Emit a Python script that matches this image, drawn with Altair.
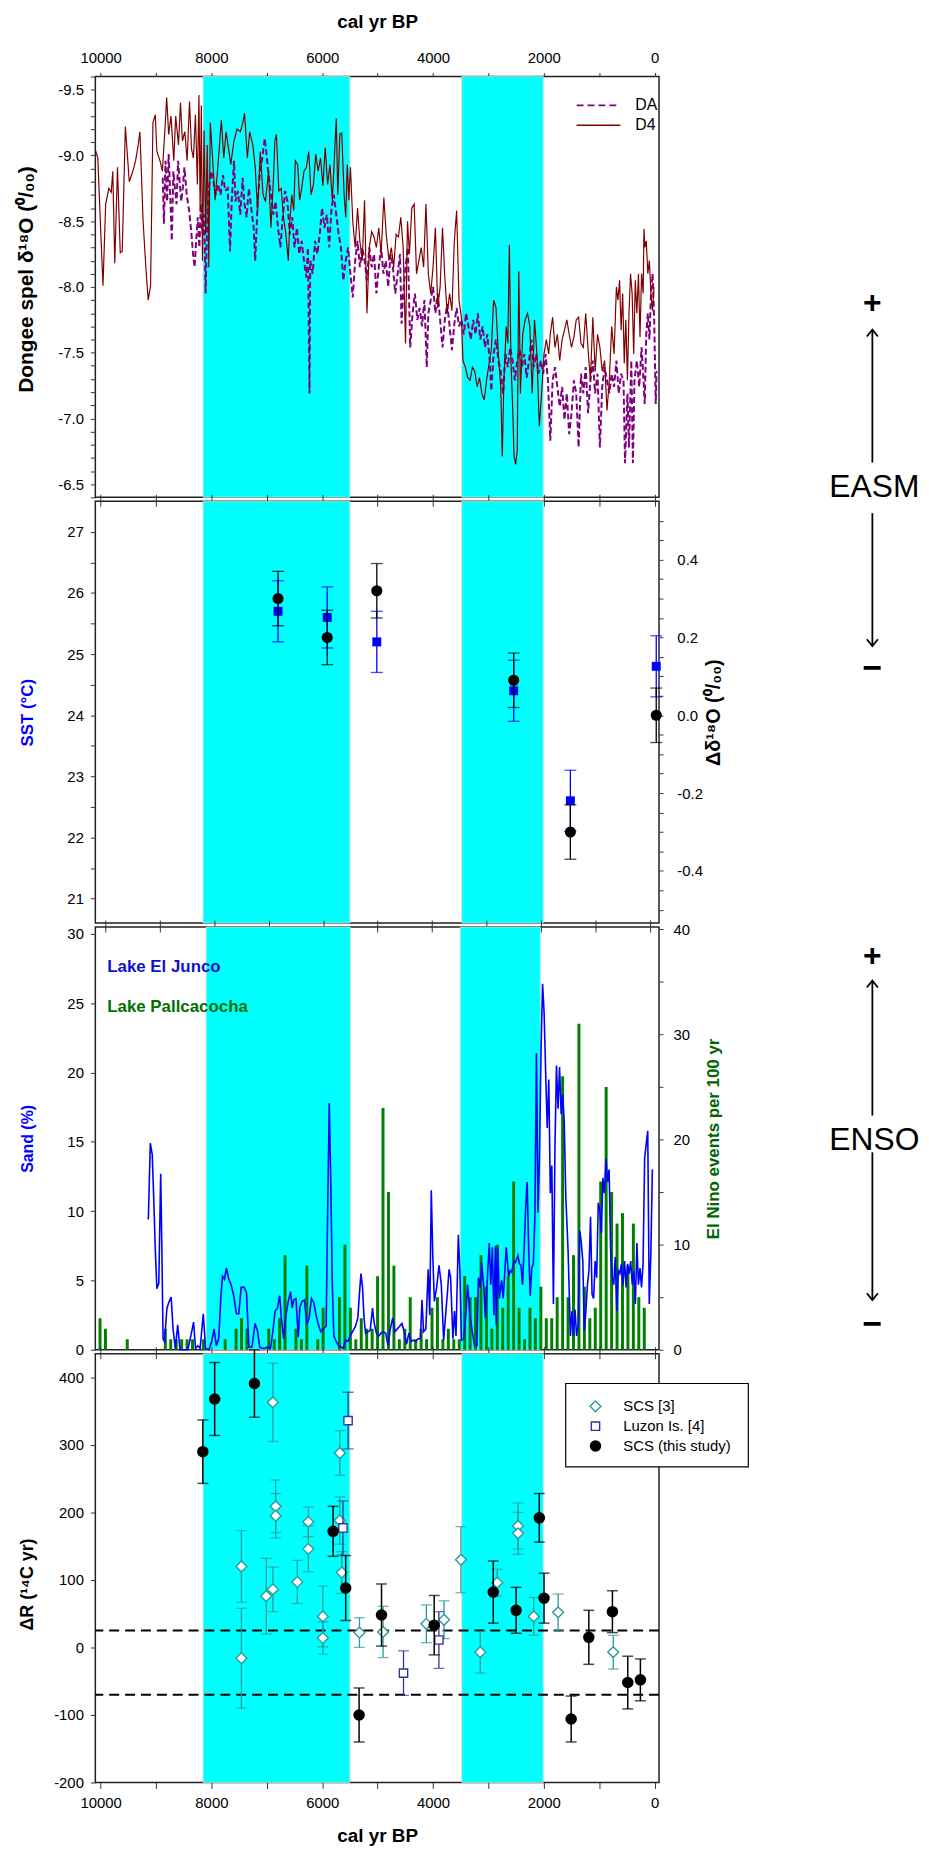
import altair as alt
import pandas as pd

FONT = "Liberation Sans"
NARROW = "Liberation Sans Narrow, Liberation Sans"
W = 568
H1, H2, H3, H4 = 424, 425, 426, 432
XDOM = [10095, -80]
MINUS = "\u2212"

# ---------------- data ----------------
band_start = [8150, 3480]
band_end = [5500, 2010]

d4_year = [10100, 10050, 10000, 9957, 9908, 9851, 9808, 9780, 9744, 9695,
           9645, 9609, 9553, 9482, 9425, 9368, 9325, 9290, 9233, 9183,
           9141, 9098, 9055, 9013, 8984, 8928, 8885, 8842, 8807, 8771,
           8729, 8679, 8644, 8594, 8558, 8523, 8480, 8438, 8395, 8359,
           8324, 8288, 8253, 8225, 8203, 8182, 8161, 8132, 8104, 8075,
           8047, 8019, 7976, 7933, 7884, 7820, 7777, 7735, 7692, 7650,
           7593, 7536, 7479, 7437, 7401, 7351, 7309, 7252, 7209, 7166,
           7117, 7067, 7024, 6968, 6925, 6882, 6854, 6826, 6783, 6740,
           6698, 6655, 6612, 6584, 6549, 6513, 6485, 6442, 6407, 6371,
           6328, 6286, 6243, 6200, 6158, 6115, 6073, 6030, 5987, 5945,
           5902, 5860, 5817, 5774, 5746, 5718, 5682, 5647, 5604, 5575,
           5547, 5519, 5490, 5448, 5405, 5362, 5320, 5277, 5235, 5192,
           5149, 5107, 5064, 5022, 4979, 4936, 4887, 4844, 4794, 4752,
           4709, 4666, 4624, 4581, 4538, 4496, 4460, 4425, 4382, 4340,
           4297, 4255, 4212, 4169, 4127, 4084, 4041, 3999, 3956, 3914,
           3871, 3828, 3786, 3743, 3700, 3658, 3615, 3573, 3530, 3487,
           3459, 3416, 3373, 3331, 3288, 3246, 3203, 3160, 3118, 3075,
           3033, 2990, 2947, 2905, 2862, 2820, 2777, 2749, 2720, 2678,
           2649, 2621, 2593, 2564, 2536, 2507, 2479, 2451, 2422, 2380,
           2337, 2294, 2252, 2209, 2167, 2124, 2081, 2039, 1996, 1954,
           1911, 1883, 1840, 1797, 1755, 1712, 1669, 1627, 1584, 1542,
           1499, 1456, 1414, 1371, 1328, 1286, 1243, 1200, 1158, 1115,
           1072, 1030, 987, 945, 902, 859, 817, 774, 731, 689,
           661, 632, 604, 576, 547, 519, 490, 462, 434, 405,
           377, 348, 320, 291, 263, 235, 206, 192, 173, 150,
           122, 94, 66, 38, 10]
d4_d18o = [-9.05, -8.98, -8.45, -8.01, -8.63, -8.75, -8.72, -8.88, -8.18, -8.91,
           -8.26, -8.27, -9.22, -8.80, -8.87, -8.96, -9.07, -9.18, -8.50, -8.15,
           -7.90, -8.01, -9.25, -9.31, -9.03, -8.96, -8.88, -9.17, -9.44, -9.16,
           -9.30, -8.96, -9.30, -9.08, -9.40, -9.11, -9.18, -8.96, -9.41, -9.05,
           -8.98, -9.31, -8.78, -9.46, -8.57, -9.38, -8.20, -9.19, -8.40, -9.08,
           -8.15, -9.25, -8.96, -8.66, -8.91, -9.27, -8.98, -9.18, -9.06, -8.93,
           -9.11, -9.20, -9.18, -9.24, -9.32, -8.98, -9.18, -9.08, -8.91, -8.58,
           -9.03, -8.70, -8.65, -8.88, -8.45, -8.80, -9.11, -9.16, -8.73, -8.75,
           -8.53, -8.40, -8.20, -8.50, -8.70, -8.58, -8.96, -8.93, -8.66, -8.75,
           -8.88, -8.91, -9.03, -8.70, -8.78, -9.01, -8.88, -8.98, -8.77, -9.06,
           -8.78, -8.93, -8.66, -9.03, -9.28, -8.70, -9.16, -9.17, -8.70, -8.53,
           -8.93, -8.66, -8.91, -8.50, -8.30, -8.60, -8.35, -8.20, -8.66, -7.80,
           -8.30, -8.42, -8.38, -8.30, -8.45, -8.25, -8.68, -8.40, -8.20, -8.30,
           -8.15, -8.40, -8.38, -8.53, -8.30, -7.57, -8.50, -8.25, -8.60, -8.63,
           -8.10, -8.20, -8.30, -8.15, -8.63, -8.10, -7.95, -8.15, -8.45, -7.84,
           -8.00, -8.45, -8.07, -7.80, -7.95, -7.82, -8.35, -8.58, -7.90, -7.77,
           -7.44, -7.39, -7.31, -7.29, -7.39, -7.36, -7.24, -7.31, -7.19, -7.14,
           -7.29, -7.41, -7.52, -7.90, -7.84, -7.49, -7.24, -6.71, -7.29, -7.70,
           -7.57, -8.32, -7.44, -7.11, -6.71, -6.65, -6.76, -8.12, -7.19, -7.64,
           -7.75, -7.80, -7.70, -7.19, -7.75, -7.49, -6.94, -7.19, -7.49, -7.60,
           -7.49, -7.64, -7.77, -7.54, -7.64, -7.44, -7.60, -7.67, -7.75, -7.64,
           -7.54, -7.62, -7.75, -7.77, -7.57, -7.54, -7.80, -7.52, -7.29, -7.77,
           -7.36, -7.64, -7.54, -7.36, -7.44, -7.06, -7.29, -7.70, -7.49, -8.00,
           -7.90, -8.05, -7.67, -7.95, -7.42, -7.75, -7.29, -7.80, -8.10, -7.95,
           -7.49, -8.05, -7.80, -8.10, -7.62, -8.10, -7.95, -8.44, -8.30, -8.35,
           -8.10, -8.20, -7.95, -7.82, -8.00]

da_year = [8878, 8857, 8828, 8800, 8771, 8743, 8715, 8686, 8658, 8629,
           8601, 8573, 8544, 8516, 8487, 8445, 8402, 8359, 8331, 8303,
           8274, 8246, 8217, 8189, 8161, 8132, 8104, 8075, 8047, 8004,
           7962, 7919, 7877, 7834, 7791, 7749, 7706, 7663, 7635, 7592,
           7564, 7521, 7479, 7436, 7408, 7365, 7323, 7280, 7237, 7209,
           7166, 7124, 7081, 7038, 7010, 6967, 6925, 6882, 6840, 6797,
           6754, 6712, 6669, 6627, 6584, 6541, 6499, 6456, 6414, 6371,
           6328, 6286, 6257, 6229, 6215, 6172, 6129, 6087, 6044, 6002,
           5959, 5916, 5874, 5831, 5789, 5746, 5703, 5661, 5618, 5576,
           5533, 5490, 5448, 5405, 5362, 5320, 5277, 5235, 5192, 5149,
           5107, 5064, 5021, 4979, 4936, 4894, 4851, 4808, 4766, 4723,
           4681, 4638, 4595, 4567, 4539, 4496, 4453, 4411, 4368, 4326,
           4283, 4240, 4198, 4155, 4112, 4084, 4041, 3999, 3956, 3914,
           3871, 3828, 3786, 3743, 3700, 3658, 3615, 3573, 3530, 3487,
           3445, 3402, 3360, 3317, 3274, 3232, 3189, 3147, 3104, 3061,
           3019, 2976, 2948, 2905, 2863, 2820, 2777, 2735, 2692, 2649,
           2607, 2564, 2522, 2479, 2436, 2394, 2351, 2309, 2266, 2223,
           2181, 2138, 2095, 2053, 2010, 1968, 1925, 1882, 1840, 1797,
           1755, 1712, 1669, 1627, 1584, 1542, 1499, 1456, 1414, 1371,
           1328, 1286, 1243, 1200, 1158, 1115, 1073, 1030, 987, 945,
           902, 860, 817, 774, 732, 689, 647, 604, 561, 533,
           490, 462, 420, 391, 363, 320, 277, 235, 206, 178,
           150, 121, 93, 64, 36, 7, -21, -35]
da_d18o = [-8.83, -8.48, -8.96, -8.65, -9.01, -8.70, -8.35, -8.88, -8.75, -8.63,
           -8.96, -8.80, -8.65, -8.75, -8.91, -8.70, -8.58, -8.40, -8.25, -8.15,
           -8.35, -8.53, -8.30, -8.63, -8.40, -8.55, -7.95, -8.50, -8.75, -8.88,
           -8.80, -8.70, -8.78, -8.70, -8.85, -8.73, -8.75, -8.27, -8.63, -8.96,
           -8.65, -8.73, -8.55, -8.83, -8.65, -8.53, -8.75, -8.60, -8.45, -8.20,
           -8.63, -8.88, -8.98, -9.13, -9.03, -8.85, -8.70, -8.55, -8.65, -8.45,
           -8.30, -8.53, -8.73, -8.65, -8.40, -8.53, -8.30, -8.45, -8.25, -8.35,
           -8.20, -8.07, -8.30, -7.19, -8.20, -8.10, -8.35, -8.25, -8.40, -8.60,
           -8.45, -8.55, -8.30, -8.60, -8.70, -8.55, -8.40, -8.30, -8.05, -8.20,
           -8.30, -8.10, -7.92, -8.20, -8.35, -8.15, -8.30, -8.20, -8.05, -8.30,
           -8.15, -8.25, -7.95, -8.15, -8.30, -8.10, -8.20, -8.00, -8.25, -8.15,
           -7.95, -8.10, -8.25, -7.72, -7.95, -8.15, -8.30, -7.54, -7.80, -7.95,
           -7.75, -7.84, -7.70, -7.90, -7.39, -7.80, -7.90, -8.00, -7.80, -7.95,
           -7.75, -7.54, -7.75, -7.87, -7.70, -7.52, -7.72, -7.84, -7.70, -7.75,
           -7.64, -7.80, -7.70, -7.60, -7.75, -7.64, -7.80, -7.60, -7.70, -7.54,
           -7.64, -7.44, -7.21, -7.49, -7.60, -7.44, -7.36, -7.19, -7.49, -7.39,
           -7.54, -7.44, -7.29, -7.44, -7.52, -7.39, -7.49, -7.31, -7.44, -7.60,
           -7.39, -7.49, -7.34, -7.44, -7.34, -7.49, -7.29, -6.83, -7.29, -7.39,
           -7.24, -7.09, -7.24, -6.99, -7.19, -6.88, -7.04, -7.29, -7.19, -6.78,
           -7.34, -7.19, -7.39, -7.04, -7.29, -7.44, -7.19, -7.34, -6.78, -7.24,
           -7.39, -7.29, -7.19, -7.34, -7.24, -7.44, -7.19, -7.34, -7.29, -6.66,
           -7.19, -6.78, -7.44, -6.66, -7.29, -7.44, -7.24, -7.54, -7.34, -7.11,
           -7.64, -7.80, -7.60, -7.95, -8.10, -7.75, -7.11, -7.36]

sst_year = [6797, 5909, 5014, 2543, 1520, -30]
sst_c = [25.7, 25.6, 25.2, 24.4, 22.6, 24.8]
sst_err = [0.5, 0.5, 0.5, 0.5, 0.5, 0.5]
dd_year = [6797, 5909, 5014, 2543, 1520, -30]
dd_val = [0.30, 0.20, 0.32, 0.09, -0.30, 0.00]
dd_err = [0.07, 0.07, 0.07, 0.07, 0.07, 0.07]

junco_year = [9212, 9176, 9141, 9112, 9084, 9055, 9020, 8985, 8963, 8942,
              8914, 8871, 8829, 8793, 8758, 8716, 8673, 8630, 8558, 8487,
              8431, 8381, 8345, 8303, 8260, 8203, 8161, 8097, 8047, 8005,
              7962, 7919, 7877, 7848, 7813, 7777, 7735, 7692, 7649, 7593,
              7550, 7507, 7450, 7408, 7365, 7308, 7251, 7209, 7166, 7124,
              7067, 7024, 6968, 6925, 6883, 6840, 6797, 6769, 6726, 6684,
              6641, 6599, 6570, 6542, 6499, 6457, 6428, 6385, 6343, 6300,
              6257, 6215, 6172, 6130, 6087, 6045, 6002, 5945, 5917, 5888,
              5860, 5832, 5803, 5761, 5718, 5675, 5632, 5590, 5547, 5505,
              5462, 5405, 5363, 5334, 5306, 5277, 5249, 5221, 5178, 5136,
              5093, 5065, 5022, 4979, 4936, 4894, 4851, 4809, 4766, 4723,
              4681, 4638, 4595, 4553, 4510, 4468, 4425, 4382, 4340, 4297,
              4255, 4212, 4184, 4155, 4113, 4070, 4042, 4013, 3985, 3957,
              3914, 3871, 3829, 3786, 3744, 3715, 3687, 3658, 3616, 3587,
              3559, 3516, 3488, 3459, 3417, 3374, 3346, 3303, 3260, 3218,
              3175, 3147, 3118, 3090, 3047, 3019, 2991, 2948, 2920, 2891,
              2863, 2835, 2820, 2792, 2763, 2721, 2692, 2664, 2635, 2593,
              2564, 2536, 2493, 2465, 2422, 2394, 2365, 2337, 2308, 2280,
              2252, 2223, 2195, 2167, 2138, 2110, 2081, 2053, 2025, 1996,
              1968, 1940, 1911, 1883, 1854, 1826, 1798, 1769, 1741, 1713,
              1684, 1656, 1627, 1599, 1571, 1542, 1500, 1456, 1428, 1400,
              1372, 1343, 1314, 1286, 1258, 1229, 1201, 1172, 1144, 1116,
              1087, 1059, 1030, 1002, 974, 945, 917, 888, 860, 832,
              803, 775, 746, 718, 689, 661, 633, 604, 576, 548,
              519, 491, 462, 434, 406, 377, 349, 320, 292, 263,
              235, 207, 178, 150, 122, 93, 65, 36, 8, -21,
              -49]
junco_sand = [9.4, 14.9, 14.1, 10.8, 7.2, 4.4, 4.8, 12.7, 7.2, 0.8,
              0.6, 3.0, 3.5, 3.8, 1.5, 0.1, 1.8, 0.0, 0.0, 0.0,
              1.0, 2.0, 0.1, 0.3, 0.1, 2.6, 0.1, 0.0, 0.6, 1.5,
              0.3, 0.8, 4.0, 5.3, 5.1, 5.9, 5.1, 4.7, 4.0, 2.6,
              2.6, 4.5, 4.5, 4.1, 0.2, 0.2, 1.9, 1.4, 0.2, 0.1,
              0.1, 0.2, 0.1, 1.3, 2.8, 3.0, 3.9, 2.3, 0.8, 2.5,
              3.5, 4.2, 3.0, 3.6, 3.7, 0.9, 3.1, 3.5, 3.6, 1.8,
              2.3, 3.7, 3.4, 2.5, 1.8, 1.3, 1.5, 1.7, 10.1, 17.8,
              12.1, 4.7, 1.0, 0.6, 0.3, 0.2, 0.1, 0.7, 0.6, 1.0,
              1.3, 1.7, 2.3, 4.0, 5.5, 4.5, 2.3, 1.2, 1.3, 1.4,
              3.0, 2.0, 1.2, 1.0, 1.2, 1.3, 1.2, 0.3, 1.5, 2.3,
              1.3, 1.5, 1.7, 1.9, 1.3, 0.4, 1.2, 0.6, 0.7, 0.6,
              0.8, 0.8, 3.6, 1.3, 1.5, 5.8, 2.5, 11.5, 6.7, 3.5,
              4.5, 6.1, 4.7, 0.7, 2.8, 4.2, 5.8, 5.2, 0.8, 2.8,
              1.0, 8.3, 5.7, 0.7, 0.8, 2.8, 4.7, 2.5, 1.3, 0.3,
              0.3, 5.2, 4.5, 6.3, 4.5, 2.3, 4.5, 7.7, 4.7, 7.4,
              2.5, 7.5, 1.8, 7.4, 3.7, 5.0, 3.7, 5.5, 7.4, 5.3,
              5.7, 5.6, 6.4, 6.3, 6.8, 6.2, 6.1, 4.7, 7.2, 10.1,
              12.1, 7.2, 3.9, 5.9, 6.2, 9.6, 21.4, 9.9, 14.0, 21.8,
              26.4, 24.3, 19.9, 16.0, 19.5, 11.3, 13.3, 3.3, 14.5, 20.5,
              17.4, 20.4, 17.0, 18.4, 16.5, 11.1, 7.2, 1.0, 2.8, 1.0,
              2.9, 1.0, 1.8, 8.6, 7.8, 6.4, 1.4, 2.8, 4.7, 5.7,
              9.6, 4.0, 3.7, 6.4, 5.2, 10.6, 10.1, 8.4, 12.4, 11.3,
              13.8, 12.1, 13.0, 7.2, 5.2, 4.7, 6.7, 2.8, 5.7, 5.5,
              6.2, 4.7, 6.4, 4.5, 6.2, 5.5, 6.4, 4.7, 5.7, 3.3,
              7.7, 4.7, 5.9, 4.5, 6.2, 13.8, 14.8, 15.8, 3.3, 6.9,
              13.0]

pall_year = [10100, 10000, 9600, 8900, 8800, 8700, 8600, 8500, 8400, 8200,
             7800, 7600, 7500, 7400, 7000, 6900, 6800, 6700, 6500, 6400,
             6300, 6100, 6000, 5700, 5600, 5500, 5400, 5300, 5200, 5100,
             5000, 4900, 4800, 4700, 4600, 4500, 4400, 4300, 4200, 4100,
             4000, 3900, 3800, 3700, 3600, 3500, 3400, 3300, 3200, 3100,
             3000, 2900, 2800, 2700, 2600, 2500, 2400, 2300, 2200, 2100,
             2000, 1900, 1800, 1700, 1600, 1500, 1400, 1300, 1200, 1100,
             1000, 900, 800, 700, 600, 500, 400, 300, 200, 100]
pall_events = [3, 2, 1, 2, 1, 1, 1, 1, 1, 1,
               1, 2, 3, 2, 2, 1, 3, 9, 2, 1,
               8, 1, 4, 5, 10, 4, 1, 3, 2, 2,
               7, 23, 15, 8, 1, 2, 5, 1, 2, 1,
               4, 5, 1, 2, 1, 1, 7, 5, 5, 9,
               6, 2, 10, 4, 7, 16, 4, 1, 4, 3,
               6, 3, 3, 5, 26, 5, 9, 31, 6, 3,
               4, 16, 25, 15, 12, 13, 8, 12, 5, 4]

scs3_year = [7458, 7458, 7010, 6890, 6890, 6840, 6840, 6449, 6250, 6250,
             5988, 5988, 5682, 5682, 5647, 5327, 4901, 4120, 3800, 3495,
             3147, 2841, 2465, 2465, 2181, 1741, 746]
scs3_dr = [120, -16, 76, 86, 363, 209, 195, 97, 186, 146,
           46, 14, 288, 188, 111, 22, 23, 35, 41, 130,
           -7, 96, 180, 169, 46, 52, -7]
scs3_err = [53, 74, 56, 33, 58, 39, 33, 32, 22, 34,
            45, 24, 33, 35, 31, 22, 38, 28, 28, 49,
            31, 20, 34, 31, 28, 27, 25]
luzon_year = [5533, 5625, 4532, 3893]
luzon_dr = [336, 177, -38, 11]
luzon_err = [42, 40, 33, 42]
this_year = [8154, 7941, 7223, 5803, 5576, 5334, 4929, 3978, 2912, 2500,
             2081, 1996, 1506, 1187, 761, 484, 256]
this_dr = [290, 368, 391, 172, 88, -100, 48, 33, 82, 55,
           192, 73, -106, 15, 53, -52, -48]
this_err = [47, 54, 50, 37, 48, 40, 46, 44, 46, 34,
            36, 37, 34, 40, 31, 39, 31]
dr_limits = [25, -70]

# ---------------- helpers ----------------
CYAN = "#00ffff"
BLUE = "#0000ff"
GREEN = "#008000"
DGREEN = "#006400"
TEAL = "#2a9a9a"
NAVY = "#333399"

xs = alt.Scale(domain=XDOM, nice=False, zero=False)
year_ticks = list(range(10000, -1, -1000))
year_label = "datum.value % 2000 == 0 ? format(datum.value, 'd') : ''"
one = pd.DataFrame({"k": [0]})


def xq(field, axis=None):
    return alt.X(f"{field}:Q", scale=xs, axis=axis)


def minus_fix(fmt):
    return f"replace(format(datum.value, '{fmt}'), '{MINUS}', '-')"


def bands(axis=None):
    df = pd.DataFrame({"start": band_start, "end": band_end})
    return alt.Chart(df).mark_rect(color=CYAN, stroke="#cfd8d8", strokeWidth=0.8).encode(
        x=alt.X("start:Q", scale=xs, axis=axis), x2="end:Q")


def txt(s, x, y, size, color="black", weight="normal", align="center", font=FONT):
    return alt.Chart(one).mark_text(text=s, fontSize=size, fontWeight=weight, color=color,
                                    align=align, baseline="middle", font=font).encode(
        x=alt.value(x), y=alt.value(y))


def vline(x, y1, y2, w=1.8):
    return alt.Chart(one).mark_rule(color="black", strokeWidth=w).encode(
        x=alt.value(x), y=alt.value(y1), y2=alt.value(y2))


def hline(x1, x2, y, color, w=1.5, dash=None):
    kw = {"strokeDash": dash} if dash else {}
    return alt.Chart(one).mark_rule(color=color, strokeWidth=w, **kw).encode(
        x=alt.value(x1), x2=alt.value(x2), y=alt.value(y))


UP = "M-0.8,1L0,0L0.8,1"
DOWN = "M-0.8,-1L0,0L0.8,-1"


def head(x, y, path):
    return alt.Chart(one).mark_point(shape=path, size=196, filled=False, color="black",
                                     strokeWidth=1.8, opacity=1).encode(x=alt.value(x), y=alt.value(y))


def errgroup(df, yscale, axis, color, cap=12, w=1.3):
    rule = alt.Chart(df).mark_rule(color=color, strokeWidth=w).encode(
        x=xq("year"), y=alt.Y("lo:Q", scale=yscale, axis=axis), y2="hi:Q")
    lo = alt.Chart(df).mark_tick(color=color, orient="horizontal", size=cap, thickness=w).encode(
        x=xq("year"), y=alt.Y("lo:Q", scale=yscale, axis=axis))
    hi = alt.Chart(df).mark_tick(color=color, orient="horizontal", size=cap, thickness=w).encode(
        x=xq("year"), y=alt.Y("hi:Q", scale=yscale, axis=axis))
    return [rule, lo, hi]


def errdf(years, vals, errs):
    return pd.DataFrame({"year": years, "v": vals,
                         "lo": [v - e for v, e in zip(vals, errs)],
                         "hi": [v + e for v, e in zip(vals, errs)]})


top_ticks_axis = alt.Axis(orient="top", values=year_ticks, labels=False, tickSize=12, offset=-5,
                          domain=False, grid=False, title=None)


def yax(title, size, tx, color="#000000", font=FONT, **kw):
    return alt.Axis(domain=False, grid=False, labelFontSize=15, titleFontSize=size,
                    titleFontWeight="bold", titleBaseline="middle", titleAngle=-90,
                    title=title, titleX=tx, titleColor=color, titleFont=font, **kw)


# ---------------- panel 1 ----------------
top_axis = alt.Axis(orient="top", values=year_ticks, labelExpr=year_label, tickSize=4,
                    labelPadding=7, labelFontSize=15, domain=False, grid=False,
                    title="cal yr BP", titleFontSize=19, titleFontWeight="bold",
                    titleBaseline="middle", titleY=-55)
ys1 = alt.Scale(domain=[-9.6, -6.4], reverse=True, nice=False, zero=False)
y1_ticks = [round(-9.6 + 0.1 * i, 1) for i in range(33)]
y1_axis = yax("Dongee spel δ¹⁸O (⁰/₀₀)", 21, -69, values=y1_ticks, titleY=204,
              labelExpr="abs(datum.value*2 - round(datum.value*2)) < 0.01 ? " + minus_fix(".1f") + " : ''",
              tickSize=5, labelPadding=7)

da_df = pd.DataFrame({"year": da_year, "v": da_d18o})
d4_df = pd.DataFrame({"year": d4_year, "v": d4_d18o})
da_line = alt.Chart(da_df).mark_line(color="#800080", strokeWidth=2, strokeDash=[6, 3]).encode(
    x=xq("year"), y=alt.Y("v:Q", scale=ys1, axis=y1_axis))
d4_line = alt.Chart(d4_df).mark_line(color="#800000", strokeWidth=1.2).encode(
    x=xq("year"), y=alt.Y("v:Q", scale=ys1, axis=y1_axis))

p1 = alt.layer(
    bands(top_axis), da_line, d4_line,
    hline(485, 529, 29, "#800080", 1.8, [7, 4]), txt("DA", 544, 29, 16, align="left"),
    hline(485, 529, 49, "#800000", 1.5), txt("D4", 544, 49, 16, align="left"),
    txt("+", 783, 228, 32, weight="bold"), head(783, 255, UP), vline(783, 255, 389),
    txt("EASM", 785, 414, 32),
).resolve_axis(x="independent").properties(width=W, height=H1)

# ---------------- panel 2 ----------------
ys2 = alt.Scale(domain=[20.6, 27.5], nice=False, zero=False)
y2_ticks = [round(21 + 0.5 * i, 1) for i in range(13)]
sst_axis = yax("SST (°C)", 17, -68, color=BLUE, orient="left", values=y2_ticks,
               labelExpr="abs(datum.value - round(datum.value)) < 0.01 ? format(datum.value, 'd') : ''",
               tickSize=5, labelPadding=7)
yd2 = alt.Scale(domain=[-0.534, 0.55], nice=False, zero=False)
d2_ticks = [round(-0.5 + 0.05 * i, 2) for i in range(21)]
dd_axis = yax("Δδ¹⁸O (⁰/₀₀)", 20, 55, orient="right", values=d2_ticks,
              labelExpr="abs(datum.value*5 - round(datum.value*5)) < 0.001 ? " + minus_fix(".1f") + " : ''",
              tickSize=4, labelPadding=14)

sst_df = errdf(sst_year, sst_c, sst_err)
dd_df = errdf(dd_year, dd_val, dd_err)
blue_grp = alt.layer(*errgroup(sst_df, ys2, sst_axis, BLUE),
                     alt.Chart(sst_df).mark_square(color=BLUE, size=81, opacity=1).encode(
                         x=xq("year"), y=alt.Y("v:Q", scale=ys2, axis=sst_axis)))
black_grp = alt.layer(*errgroup(dd_df, yd2, dd_axis, "black"),
                      alt.Chart(dd_df).mark_circle(color="black", size=125, opacity=1).encode(
                          x=xq("year"), y=alt.Y("v:Q", scale=yd2, axis=dd_axis)))

p2 = alt.layer(
    bands(top_ticks_axis), blue_grp, black_grp,
    vline(783, 12, 146), head(783, 146, DOWN), txt("\u2212", 783, 169, 34, weight="bold"),
).resolve_scale(y="independent").resolve_axis(x="independent").properties(width=W, height=H2)

# ---------------- panel 3 ----------------
ys3 = alt.Scale(domain=[0, 30.5], nice=False, zero=False)
yr3 = alt.Scale(domain=[0, 40.2], nice=False, zero=False)
sand_axis = yax("Sand (%)", 16, -68, color=BLUE, font=NARROW, orient="left",
                values=[0, 5, 10, 15, 20, 25, 30], format="d", tickSize=5, labelPadding=7)
ev_axis = yax("El Nino events per 100 yr", 17, 55, color=DGREEN, font=NARROW, orient="right",
              values=[0, 5, 10, 15, 20, 25, 30, 35, 40],
              labelExpr="datum.value % 10 == 0 ? format(datum.value, 'd') : ''",
              tickSize=4, labelPadding=10)

pall_df = pd.DataFrame({"year": pall_year, "ev": pall_events})
junco_df = pd.DataFrame({"year": junco_year, "sand": junco_sand})
bars = alt.Chart(pall_df).mark_bar(color=GREEN, size=3).encode(
    x=xq("year"), y=alt.Y("ev:Q", scale=yr3, axis=ev_axis))
sand = alt.Chart(junco_df).mark_line(color=BLUE, strokeWidth=1.6).encode(
    x=xq("year"), y=alt.Y("sand:Q", scale=ys3, axis=sand_axis))

p3 = alt.layer(
    bands(top_ticks_axis), bars, sand,
    txt("Lake El Junco", 12, 40, 17, color="#1010d0", weight="bold", align="left"),
    txt("Lake Pallcacocha", 12, 81, 17, color="#007000", weight="bold", align="left"),
    txt("+", 783, 29, 32, weight="bold"), head(783, 54, UP), vline(783, 54, 190),
    txt("ENSO", 785, 215, 32),
    vline(783, 227, 376), head(783, 376, DOWN), txt("\u2212", 783, 401, 34, weight="bold"),
).resolve_scale(y="independent").resolve_axis(x="independent").properties(width=W, height=H3)

# ---------------- panel 4 ----------------
ys4 = alt.Scale(domain=[-200, 435], nice=False, zero=False)
dr_axis = yax("ΔR (¹⁴C yr)", 18, -68, font=NARROW, orient="left", titleY=232,
              values=[-200, -100, 0, 100, 200, 300, 400],
              labelExpr=minus_fix("d"), tickSize=5, labelPadding=7)
bottom_axis = alt.Axis(orient="bottom", values=year_ticks, labelExpr=year_label, tickSize=6,
                       labelPadding=7, labelFontSize=15, domain=False, grid=False,
                       title="cal yr BP", titleFontSize=19, titleFontWeight="bold",
                       titleBaseline="middle", titleY=53)

scs3_df = errdf(scs3_year, scs3_dr, scs3_err)
luzon_df = errdf(luzon_year, luzon_dr, luzon_err)
this_df = errdf(this_year, this_dr, this_err)

dashes = alt.Chart(pd.DataFrame({"y": dr_limits})).mark_rule(
    color="black", strokeWidth=2, strokeDash=[10, 6]).encode(
    y=alt.Y("y:Q", scale=ys4, axis=dr_axis))

scs3_pts = alt.Chart(scs3_df).mark_point(shape="diamond", size=120, filled=True, fill="white",
                                         stroke=TEAL, strokeWidth=1.4, opacity=1).encode(
    x=xq("year"), y=alt.Y("v:Q", scale=ys4, axis=dr_axis))
luzon_pts = alt.Chart(luzon_df).mark_point(shape="square", size=70, filled=True, fill="white",
                                           stroke=NAVY, strokeWidth=1.4, opacity=1).encode(
    x=xq("year"), y=alt.Y("v:Q", scale=ys4, axis=dr_axis))
this_pts = alt.Chart(this_df).mark_circle(color="black", size=135, opacity=1).encode(
    x=xq("year", bottom_axis), y=alt.Y("v:Q", scale=ys4, axis=dr_axis))

legend_box = alt.Chart(one).mark_rect(fill="white", stroke="black", strokeWidth=1.2).encode(
    x=alt.value(474), x2=alt.value(658), y=alt.value(30), y2=alt.value(114))
leg1 = alt.Chart(one).mark_point(shape="diamond", size=120, filled=True, fill="white", stroke=TEAL,
                                 strokeWidth=1.4, opacity=1).encode(x=alt.value(504), y=alt.value(53))
leg2 = alt.Chart(one).mark_point(shape="square", size=70, filled=True, fill="white", stroke=NAVY,
                                 strokeWidth=1.4, opacity=1).encode(x=alt.value(504), y=alt.value(73))
leg3 = alt.Chart(one).mark_circle(color="black", size=135, opacity=1).encode(
    x=alt.value(504), y=alt.value(93))

p4 = alt.layer(
    bands(top_ticks_axis), dashes,
    *errgroup(scs3_df, ys4, dr_axis, TEAL, cap=11),
    scs3_pts,
    *errgroup(luzon_df, ys4, dr_axis, NAVY, cap=11),
    luzon_pts,
    *errgroup(this_df, ys4, dr_axis, "black", cap=11, w=1.5),
    this_pts,
    legend_box, leg1, leg2, leg3,
    txt("SCS [3]", 532, 53, 15, align="left"),
    txt("Luzon Is. [4]", 532, 73, 15, align="left"),
    txt("SCS (this study)", 532, 93, 15, align="left"),
).resolve_axis(x="independent").properties(width=W, height=H4)

chart = alt.vconcat(p1, p2, p3, p4, spacing=4, bounds="flush").properties(
    padding={"left": 7, "top": -3, "right": 0, "bottom": 0}
).configure_view(stroke="#222222", strokeWidth=1.5).configure_axis(
    labelFont=FONT, titleFont=FONT, labelColor="#000000", tickColor="#333333",
    titleColor="#000000", grid=False, domain=False, labelFontSize=15
).configure_text(font=FONT)

chart.save("out.html", embed_options={"renderer": "svg", "actions": False})
